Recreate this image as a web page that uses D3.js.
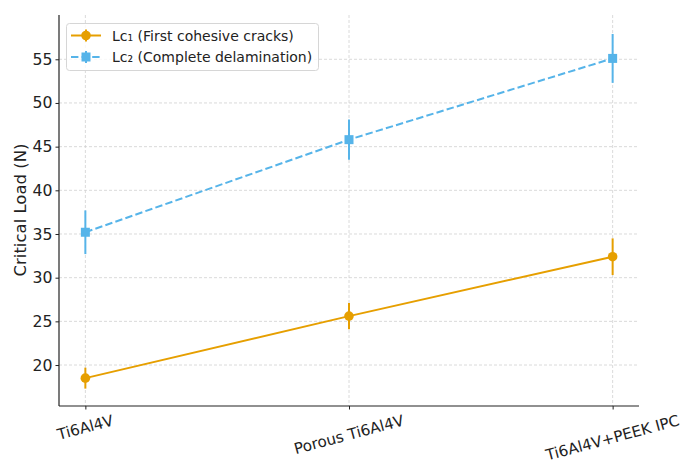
<!DOCTYPE html>
<html><head><meta charset="utf-8">
<script src="https://cdn.jsdelivr.net/npm/d3@7"></script>
<style>body{margin:0;background:#fff}svg{display:block;font-family:"DejaVu Sans",sans-serif}</style>
</head><body><svg id="c" width="688" height="464"></svg>
<script>
const categories = ["Ti6Al4V", "Porous Ti6Al4V", "Ti6Al4V+PEEK IPC"];
const lc1 = [18.5, 25.6, 32.4];
const lc1Err = [1.2, 1.5, 2.1];
const lc2 = [35.2, 45.8, 55.1];
const lc2Err = [2.5, 2.3, 2.8];
const yTicks = [20, 25, 30, 35, 40, 45, 50, 55];
const seriesNames = ["Lc\u2081 (First cohesive cracks)", "Lc\u2082 (Complete delamination)"];

const svg = d3.select("#c");
const L = 59, R = 639, T = 15, B = 406;
const x = d3.scalePoint().domain(categories).range([L, R]).padding(0.1);
const y = d3.scaleLinear().domain([15.31, 60.07]).range([B, T]);
const orange = "#E69F00", blue = "#56B4E9";

// grid
const g = svg.append("g");
g.selectAll(".gy").data(yTicks).join("line")
  .attr("x1", L).attr("x2", R).attr("y1", d => y(d)).attr("y2", d => y(d))
  .attr("stroke", "#d0d0d0").attr("stroke-width", 0.8).attr("stroke-dasharray", "3,2");
g.selectAll(".gx").data(categories).join("line")
  .attr("x1", d => x(d)).attr("x2", d => x(d)).attr("y1", T).attr("y2", B)
  .attr("stroke", "#d0d0d0").attr("stroke-width", 0.8).attr("stroke-dasharray", "3,2");

// axes
const yAxis = svg.append("g").attr("transform", `translate(${L},0)`)
  .call(d3.axisLeft(y).tickValues(yTicks).tickSize(3.5).tickPadding(3));
yAxis.select(".domain").attr("d", `M0,${T}V${B}`).attr("stroke", "#222").attr("stroke-width", 1.2);
yAxis.selectAll("text").attr("font-size", 15.7).attr("fill", "#222").attr("font-family", "DejaVu Sans");
yAxis.selectAll("line").attr("stroke", "#222");

const xAxis = svg.append("g").attr("transform", `translate(0,${B})`)
  .call(d3.axisBottom(x).tickSize(3.5).tickFormat(""));
xAxis.select(".domain").attr("d", `M${L},0H${R}`).attr("stroke", "#222").attr("stroke-width", 1.2);
xAxis.selectAll("line").attr("stroke", "#222");

// rotated x labels
const ang = 15 * Math.PI / 180;
categories.forEach(c => {
  const t = svg.append("text").text(c).attr("font-size", 15.2).attr("fill", "#222")
    .attr("text-anchor", "middle").attr("dominant-baseline", "central");
  const w = t.node().getComputedTextLength();
  const h = 17;
  const H = w * Math.sin(ang) + h * Math.cos(ang);
  t.attr("transform", `translate(${x(c)},${412 + H / 2}) rotate(-15)`);
});

// y label
svg.append("text").text("Critical Load (N)").attr("font-size", 16.5).attr("fill", "#222")
  .attr("text-anchor", "middle")
  .attr("transform", `translate(26,210) rotate(-90)`);

const line = d3.line().x((d, i) => x(categories[i])).y(d => y(d));

function drawSeries(vals, errs, color, dashed, square) {
  const s = svg.append("g");
  s.append("path").datum(vals).attr("d", line).attr("fill", "none")
    .attr("stroke", color).attr("stroke-width", 2)
    .attr("stroke-dasharray", dashed ? "7.4,3.2" : null);
  s.selectAll(".e").data(vals).join("line")
    .attr("x1", (d, i) => x(categories[i])).attr("x2", (d, i) => x(categories[i]))
    .attr("y1", (d, i) => y(d - errs[i])).attr("y2", (d, i) => y(d + errs[i]))
    .attr("stroke", color).attr("stroke-width", 2);
  if (square) {
    s.selectAll(".m").data(vals).join("rect")
      .attr("x", (d, i) => x(categories[i]) - 4.5).attr("y", d => y(d) - 4.5)
      .attr("width", 9).attr("height", 9).attr("fill", color);
  } else {
    s.selectAll(".m").data(vals).join("circle")
      .attr("cx", (d, i) => x(categories[i])).attr("cy", d => y(d))
      .attr("r", 4.8).attr("fill", color);
  }
}
drawSeries(lc2, lc2Err, blue, true, true);
drawSeries(lc1, lc1Err, orange, false, false);

// legend
const lg = svg.append("g");
lg.append("rect").attr("x", 66.5).attr("y", 23.5).attr("width", 252).attr("height", 47)
  .attr("rx", 3).attr("fill", "#fff").attr("fill-opacity", 0.8).attr("stroke", "#d6d6d6");
const rows = [
  {name: seriesNames[0], color: orange, dashed: false, square: false, yy: 35.5},
  {name: seriesNames[1], color: blue, dashed: true, square: true, yy: 57}
];
rows.forEach(r => {
  lg.append("line").attr("x1", 71).attr("x2", 101).attr("y1", r.yy).attr("y2", r.yy)
    .attr("stroke", r.color).attr("stroke-width", 2)
    .attr("stroke-dasharray", r.dashed ? "7.4,3.2" : null);
  lg.append("line").attr("x1", 86).attr("x2", 86).attr("y1", r.yy - 6).attr("y2", r.yy + 6)
    .attr("stroke", r.color).attr("stroke-width", 2);
  if (r.square) lg.append("rect").attr("x", 81.5).attr("y", r.yy - 4.5).attr("width", 9).attr("height", 9).attr("fill", r.color);
  else lg.append("circle").attr("cx", 86).attr("cy", r.yy).attr("r", 4.8).attr("fill", r.color);
  lg.append("text").text(r.name).attr("x", 112).attr("y", r.yy).attr("dominant-baseline", "central")
    .attr("font-size", 14).attr("fill", "#222");
});
</script></body></html>
